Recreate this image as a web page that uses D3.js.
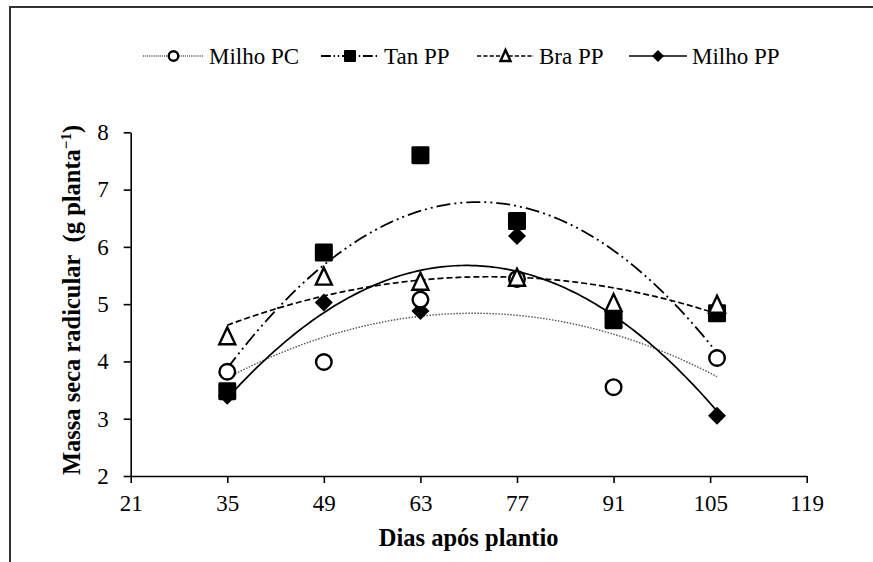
<!DOCTYPE html>
<html>
<head>
<meta charset="utf-8">
<script src="https://cdn.jsdelivr.net/npm/d3@7"></script>
</head>
<body style="margin:0">
<svg id="chart" width="873" height="562" style="display:block"></svg>
<script>
// days after planting (last harvest sits a little right of the 105 tick)
const days = [35, 49, 63, 77, 91, 106]
const xTicks = [21, 35, 49, 63, 77, 91, 105, 119]
const yTicks = [2, 3, 4, 5, 6, 7, 8]

const milhoPC = [3.82, 3.99, 5.08, 5.44, 3.55, 4.06]
const tanPP = [3.48, 5.90, 7.60, 6.45, 4.72, 4.84]
const braPP = [4.44, 5.48, 5.39, 5.46, 5.02, 4.99]
const milhoPP = [3.40, 5.03, 4.88, 6.19, 4.75, 3.05]

const width = 873
const height = 562
const serif = "'Liberation Serif'"

const x = d3.scaleLinear().domain([21, 119]).range([130.7, 806.7])
const y = d3.scaleLinear().domain([2, 8]).range([476, 132.3])

const series = [
  {name: 'Milho PC', values: milhoPC, marker: 'circle', dash: '1.5,1.5', color: '#555', width: 1.4, legend: [143, 204]},
  {name: 'Tan PP', values: tanPP, marker: 'square', dash: '14,4,2,4,2,4', color: '#000', width: 1.8, legend: [321, 379]},
  {name: 'Bra PP', values: braPP, marker: 'triangle', dash: '6,3', color: '#000', width: 1.7, legend: [477, 534]},
  {name: 'Milho PP', values: milhoPP, marker: 'diamond', dash: null, color: '#000', width: 1.7, legend: [629, 687]}
]

// quadratic least squares trend (Excel style polynomial trendline)
function quadFit (xs, ys) {
  const s = [0, 0, 0, 0, 0]
  const t = [0, 0, 0]
  xs.forEach((xv, i) => {
    for (let k = 0; k < 5; k++) s[k] += Math.pow(xv, k)
    for (let k = 0; k < 3; k++) t[k] += Math.pow(xv, k) * ys[i]
  })
  const m = [[s[0], s[1], s[2], t[0]], [s[1], s[2], s[3], t[1]], [s[2], s[3], s[4], t[2]]]
  for (let c = 0; c < 3; c++) {
    for (let r = c + 1; r < 3; r++) {
      const f = m[r][c] / m[c][c]
      for (let k = c; k < 4; k++) m[r][k] -= f * m[c][k]
    }
  }
  const coef = [0, 0, 0]
  for (let r = 2; r >= 0; r--) {
    let v = m[r][3]
    for (let k = r + 1; k < 3; k++) v -= m[r][k] * coef[k]
    coef[r] = v / m[r][r]
  }
  return xv => coef[0] + coef[1] * xv + coef[2] * xv * xv
}

const svg = d3.select('#chart')

// outer frame (left and top edges only)
svg.append('path')
  .attr('d', 'M10,' + height + 'V7H' + width)
  .attr('fill', 'none')
  .attr('stroke', '#333')
  .attr('stroke-width', 2)

// axes
const xAxis = svg.append('g')
  .attr('transform', 'translate(0,476)')
  .call(d3.axisBottom(x).tickValues(xTicks).tickSize(7).tickPadding(12).tickSizeOuter(0))
const yAxis = svg.append('g')
  .attr('transform', 'translate(130.7,0)')
  .call(d3.axisLeft(y).tickValues(yTicks).tickFormat(d3.format('d'))
    .tickSize(7).tickPadding(15).tickSizeOuter(0))

;[xAxis, yAxis].forEach(g => {
  g.attr('font-family', null).attr('font-size', null)
  g.select('.domain').attr('stroke', '#000').attr('stroke-width', 1.6)
  g.selectAll('.tick line').attr('stroke', '#000').attr('stroke-width', 1.6)
  g.selectAll('.tick text')
    .style('font-family', serif)
    .attr('font-size', 23)
    .attr('fill', '#000')
})

// axis titles
svg.append('text')
  .attr('x', 468.7)
  .attr('y', 546)
  .attr('text-anchor', 'middle')
  .style('font-family', serif)
  .attr('font-size', 24.5)
  .attr('font-weight', 'bold')
  .text('Dias após plantio')

const yTitle = svg.append('text')
  .attr('transform', 'translate(80,' + 300 + ') rotate(-90)')
  .attr('text-anchor', 'middle')
  .style('font-family', serif)
  .attr('font-size', 24.5)
  .attr('font-weight', 'bold')
yTitle.append('tspan').text('Massa seca radicular\u00a0 (g planta')
yTitle.append('tspan').attr('font-size', 15).attr('dy', -9).text('\u22121')
yTitle.append('tspan').attr('dy', 9).text(')')

// marker shapes
function drawMarker (g, type, cx, cy, size) {
  const h = size / 2
  if (type === 'circle') {
    g.append('circle').attr('cx', cx).attr('cy', cy).attr('r', h - 1.2)
      .attr('fill', '#fff').attr('stroke', '#000').attr('stroke-width', 2.4)
  } else if (type === 'square') {
    g.append('rect').attr('x', cx - h).attr('y', cy - h).attr('width', size).attr('height', size)
      .attr('rx', size * 0.08).attr('fill', '#000')
  } else if (type === 'triangle') {
    const r = h - 1
    g.append('path')
      .attr('d', 'M' + cx + ',' + (cy - r - 1) + 'L' + (cx + r) + ',' + (cy + r) + 'L' + (cx - r) + ',' + (cy + r) + 'Z')
      .attr('fill', '#fff').attr('stroke', '#000').attr('stroke-width', 2.4).attr('stroke-linejoin', 'miter')
  } else {
    g.append('path')
      .attr('d', 'M' + cx + ',' + (cy - h) + 'L' + (cx + h) + ',' + cy + 'L' + cx + ',' + (cy + h) + 'L' + (cx - h) + ',' + cy + 'Z')
      .attr('fill', '#000')
  }
}

// trend curves
const line = d3.line().x(d => x(d[0])).y(d => y(d[1]))
const trendLayer = svg.append('g').attr('class', 'trend')
series.forEach(s => {
  const f = quadFit(days, s.values)
  const pts = d3.range(days[0], days[days.length - 1] + 0.01, 0.5).map(d => [d, f(d)])
  trendLayer.append('path')
    .attr('d', line(pts))
    .attr('fill', 'none')
    .attr('stroke', s.color)
    .attr('stroke-width', s.width)
    .attr('stroke-dasharray', s.dash)
})

// markers: diamonds first, then circles, squares, triangles
const markerLayer = svg.append('g').attr('class', 'markers')
const order = ['Milho PP', 'Milho PC', 'Tan PP', 'Bra PP']
order.forEach(name => {
  const s = series.find(e => e.name === name)
  s.values.forEach((v, i) => {
    drawMarker(markerLayer, s.marker, x(days[i]), y(v), 18)
  })
})

// legend
const legend = svg.append('g').attr('class', 'legend')
series.forEach(s => {
  const [x1, x2] = s.legend
  legend.append('line')
    .attr('x1', x1).attr('x2', x2)
    .attr('y1', 56).attr('y2', 56)
    .attr('stroke', s.color)
    .attr('stroke-width', s.width)
    .attr('stroke-dasharray', s.dash ? s.dash.split(',').map(d => d * 0.7).join(',') : null)
  drawMarker(legend, s.marker, (x1 + x2) / 2, 56, 12)
  legend.append('text')
    .attr('x', x2 + 5)
    .attr('y', 64)
    .style('font-family', serif)
    .attr('font-size', 23)
    .text(s.name)
})
</script>
</body>
</html>
